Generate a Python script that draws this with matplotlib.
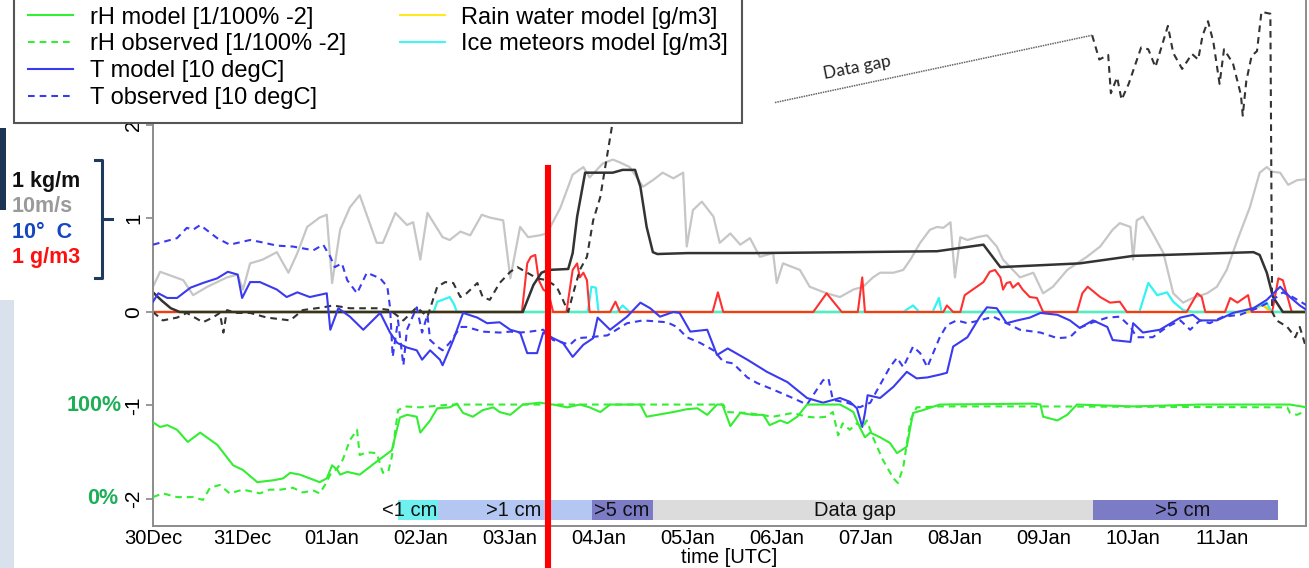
import numpy as np
import matplotlib
matplotlib.use('Agg')
from matplotlib import pyplot as plt
from matplotlib.lines import Line2D
from matplotlib.patches import Rectangle

plt.rcParams['font.family'] = ['Liberation Sans Narrow', 'Liberation Sans', 'DejaVu Sans']

# time axis in days since 30 Dec 00 UTC
day_labels = ['30Dec', '31Dec', '01Jan', '02Jan', '03Jan', '04Jan', '05Jan',
              '06Jan', '07Jan', '08Jan', '09Jan', '10Jan', '11Jan']

# wind speed [10 m/s]
wind_t = [0.00, 0.08, 0.34, 0.45, 0.61, 0.83, 0.95, 1.01, 1.09, 1.23,
          1.39, 1.52, 1.62, 1.73, 1.87, 1.95, 2.01, 2.10, 2.21, 2.32,
          2.51, 2.58, 2.72, 2.85, 2.92, 3.00, 3.08, 3.25, 3.33, 3.45,
          3.56, 3.69, 3.78, 3.93, 4.01, 4.12, 4.21, 4.34, 4.42, 4.57,
          4.71, 4.83, 4.90, 4.98, 5.05, 5.16, 5.24, 5.35, 5.50, 5.61,
          5.72, 5.84, 5.95, 5.99, 6.06, 6.16, 6.29, 6.36, 6.48, 6.59,
          6.70, 6.81, 6.96, 7.00, 7.07, 7.26, 7.37, 7.56, 7.71, 7.86,
          7.97, 8.08, 8.16, 8.31, 8.42, 8.50, 8.61, 8.72, 8.80, 8.87,
          8.95, 9.00, 9.06, 9.14, 9.25, 9.36, 9.47, 9.54, 9.62, 9.73,
          9.88, 9.99, 10.10, 10.26, 10.37, 10.48, 10.63, 10.77, 10.85, 10.97,
          11.00, 11.04, 11.11, 11.22, 11.34, 11.45, 11.56, 11.67, 11.83, 11.94,
          12.05, 12.17, 12.31, 12.42, 12.50, 12.56, 12.65, 12.74, 12.84, 12.95]
wind_v = [0.27, 0.43, 0.34, 0.18, 0.27, 0.37, 0.40, 0.24, 0.52, 0.56,
          0.64, 0.42, 0.63, 0.91, 1.01, 1.04, 0.31, 0.88, 1.12, 1.25,
          0.74, 0.74, 1.06, 0.93, 0.96, 0.56, 1.06, 0.80, 0.77, 0.86,
          0.82, 1.04, 1.01, 0.98, 0.36, 0.91, 0.80, 0.82, 0.84, 1.11,
          1.47, 1.55, 1.44, 1.52, 1.59, 1.63, 1.60, 1.55, 1.34, 1.41,
          1.49, 1.43, 1.49, 0.70, 1.09, 1.18, 1.02, 0.74, 0.84, 0.72,
          0.79, 0.59, 0.63, 0.31, 0.52, 0.45, 0.27, 0.20, 0.16, 0.24,
          0.27, 0.37, 0.42, 0.42, 0.45, 0.56, 0.74, 0.88, 0.91, 0.90,
          0.96, 0.37, 0.80, 0.77, 0.80, 0.82, 0.70, 0.56, 0.48, 0.37,
          0.42, 0.20, 0.27, 0.45, 0.52, 0.59, 0.70, 0.88, 0.95, 0.91,
          0.56, 0.98, 1.02, 0.84, 0.63, 0.20, 0.10, 0.15, 0.20, 0.27,
          0.45, 0.77, 1.12, 1.49, 1.55, 1.50, 1.49, 1.36, 1.41, 1.42]

# ice load model [kg/m]
load_t = [0.00, 0.10, 0.20, 0.30, 4.15, 4.27, 4.36, 4.44, 4.66, 4.71,
          4.76, 4.85, 5.16, 5.27, 5.41, 5.47, 5.54, 5.61, 5.66, 6.00,
          6.74, 7.86, 8.80, 9.32, 9.51, 10.40, 11.00, 12.35, 12.42, 12.50,
          12.57, 12.68, 12.95]
load_v = [0.21, 0.12, 0.04, 0.00, 0.00, 0.29, 0.42, 0.45, 0.46, 0.63,
          1.02, 1.49, 1.49, 1.52, 1.52, 1.34, 0.91, 0.64, 0.62, 0.63,
          0.63, 0.64, 0.65, 0.72, 0.48, 0.52, 0.60, 0.64, 0.61, 0.42,
          0.16, 0.00, 0.00]

# ice load observed [kg/m], before the data gap
obs1_t = [0.00, 0.11, 0.27, 0.38, 0.56, 0.67, 0.75, 0.79, 0.83, 0.94,
          1.09, 1.28, 1.54, 1.68, 1.91, 2.02, 2.21, 2.51, 2.66, 2.81,
          2.96, 3.08, 3.19, 3.28, 3.37, 3.45, 3.52, 3.64, 3.70, 3.78,
          3.89, 4.01, 4.09, 4.20, 4.31, 4.42, 4.53, 4.60, 4.66, 4.71,
          4.79, 4.87, 4.94, 5.02, 5.07, 5.15, 5.25]
obs1_v = [0.00, -0.09, -0.06, -0.01, -0.11, -0.06, -0.01, -0.22, 0.02, -0.01,
          -0.01, -0.06, -0.09, 0.02, 0.05, 0.07, 0.04, 0.04, 0.02, -0.09,
          0.05, -0.05, 0.27, 0.32, 0.31, 0.16, 0.20, 0.31, 0.16, 0.13,
          0.31, 0.43, 0.48, 0.42, 0.36, 0.34, 0.27, 0.13, 0.00, 0.18,
          0.45, 0.59, 0.98, 1.23, 1.52, 1.98, 2.45]
# data gap connection
gap_t = [6.98, 10.54]
gap_v = [2.24, 2.96]
# ice load observed after the data gap
obs2_t = [10.54, 10.62, 10.72, 10.75, 10.82, 10.87, 10.95, 11.09, 11.17, 11.25,
          11.39, 11.45, 11.55, 11.66, 11.73, 11.78, 11.84, 11.90, 11.97, 12.02,
          12.12, 12.21, 12.23, 12.27, 12.33, 12.39, 12.44, 12.54, 12.56, 12.61,
          12.73, 12.82, 12.87, 12.95]
obs2_v = [2.96, 2.70, 2.75, 2.34, 2.51, 2.27, 2.44, 2.83, 2.81, 2.62,
          3.06, 2.77, 2.60, 2.76, 2.70, 2.96, 3.11, 2.89, 2.44, 2.81,
          2.66, 2.32, 2.10, 2.47, 2.74, 2.79, 3.21, 3.19, 0.00, -0.09,
          -0.16, -0.27, -0.16, -0.41]

# temperature observed [10 degC]
tobs_t = [0.00, 0.27, 0.38, 0.45, 0.53, 0.72, 0.86, 1.09, 1.20, 1.39,
          1.57, 1.80, 1.91, 1.99, 2.04, 2.12, 2.18, 2.29, 2.40, 2.55,
          2.63, 2.66, 2.69, 2.75, 2.81, 2.85, 2.96, 3.02, 3.08, 3.11,
          3.19, 3.25, 3.33, 3.45, 3.52, 3.70, 3.89, 4.01, 4.12, 4.23,
          4.38, 4.49, 4.68, 4.76, 4.90, 5.10, 5.32, 5.50, 5.77, 5.88,
          5.99, 6.14, 6.29, 6.40, 6.51, 6.67, 6.78, 6.96, 7.18, 7.34,
          7.45, 7.52, 7.58, 7.63, 7.79, 7.93, 8.05, 8.13, 8.27, 8.35,
          8.42, 8.53, 8.61, 8.69, 8.83, 8.91, 9.02, 9.14, 9.28, 9.43,
          9.58, 9.73, 9.96, 10.15, 10.29, 10.40, 10.55, 10.71, 10.85, 10.97,
          11.04, 11.22, 11.38, 11.53, 11.64, 11.75, 11.86, 12.01, 12.20, 12.39,
          12.54, 12.68, 12.79, 12.95]
tobs_v = [0.72, 0.79, 0.90, 0.88, 0.93, 0.79, 0.72, 0.77, 0.75, 0.71,
          0.70, 0.66, 0.72, 0.59, 0.48, 0.52, 0.34, 0.20, 0.42, 0.36,
          0.27, 0.05, -0.48, -0.09, -0.57, -0.19, 0.05, -0.22, -0.03, -0.30,
          -0.37, -0.41, -0.33, -0.16, -0.16, -0.21, -0.22, -0.21, -0.22, -0.21,
          -0.19, -0.30, -0.35, -0.28, -0.27, -0.25, -0.12, -0.09, -0.11, -0.16,
          -0.27, -0.33, -0.41, -0.53, -0.55, -0.70, -0.76, -0.83, -0.92, -0.99,
          -0.83, -0.73, -0.71, -0.94, -0.97, -1.02, -0.97, -0.83, -0.59, -0.49,
          -0.59, -0.37, -0.44, -0.59, -0.27, -0.14, -0.09, -0.12, -0.09, -0.05,
          -0.12, -0.19, -0.22, -0.28, -0.27, -0.17, -0.11, -0.06, -0.05, -0.16,
          -0.27, -0.27, -0.16, -0.09, -0.19, -0.09, -0.12, -0.05, -0.03, 0.04,
          0.11, 0.21, 0.16, 0.07]

# temperature model [10 degC]
tmod_t = [0.00, 0.06, 0.16, 0.27, 0.42, 0.56, 0.72, 0.84, 0.95, 1.00,
          1.09, 1.20, 1.39, 1.50, 1.62, 1.76, 1.95, 1.99, 2.08, 2.21,
          2.36, 2.55, 2.66, 2.74, 2.85, 2.96, 3.02, 3.11, 3.22, 3.25,
          3.37, 3.48, 3.64, 3.75, 3.89, 4.01, 4.12, 4.20, 4.31, 4.38,
          4.49, 4.60, 4.71, 4.83, 4.94, 4.99, 5.13, 5.32, 5.47, 5.58,
          5.69, 5.84, 5.91, 6.03, 6.22, 6.33, 6.45, 6.67, 6.89, 7.12,
          7.34, 7.52, 7.71, 7.82, 7.90, 7.96, 7.99, 8.02, 8.16, 8.31,
          8.46, 8.57, 8.69, 8.83, 8.91, 8.98, 9.14, 9.28, 9.36, 9.47,
          9.58, 9.70, 9.84, 9.96, 10.15, 10.29, 10.40, 10.55, 10.71, 10.77,
          10.97, 11.00, 11.11, 11.30, 11.53, 11.67, 11.75, 11.94, 12.12, 12.35,
          12.50, 12.65, 12.76, 12.87, 12.95]
tmod_v = [0.11, 0.20, 0.15, 0.15, 0.26, 0.31, 0.36, 0.43, 0.40, 0.15,
          0.32, 0.32, 0.24, 0.16, 0.21, 0.16, 0.20, -0.19, 0.04, -0.05,
          -0.19, -0.01, -0.22, -0.33, -0.38, -0.41, -0.51, -0.41, -0.51, -0.57,
          -0.30, -0.01, -0.06, -0.12, -0.11, -0.19, -0.22, -0.44, -0.44, -0.22,
          -0.28, -0.33, -0.48, -0.35, -0.28, -0.06, -0.19, -0.05, 0.10, 0.04,
          -0.05, 0.00, -0.01, -0.21, -0.19, -0.46, -0.39, -0.51, -0.64, -0.75,
          -0.92, -0.97, -0.92, -0.96, -1.03, -1.23, -1.08, -0.89, -0.92, -0.80,
          -0.64, -0.71, -0.70, -0.67, -0.65, -0.37, -0.27, -0.05, 0.05, 0.04,
          -0.12, -0.09, -0.06, -0.01, -0.03, -0.09, -0.17, -0.09, -0.16, -0.30,
          -0.32, -0.12, -0.22, -0.19, -0.06, -0.03, -0.09, -0.09, -0.01, 0.04,
          0.13, 0.27, 0.16, 0.07, 0.02]

# relative humidity model [1/100% - 2]
rhmod_t = [0.00, 0.08, 0.16, 0.27, 0.39, 0.53, 0.72, 0.90, 1.01, 1.17,
           1.35, 1.46, 1.54, 1.65, 1.76, 1.87, 1.95, 2.01, 2.07, 2.10,
           2.18, 2.32, 2.51, 2.68, 2.77, 2.85, 2.96, 3.00, 3.11, 3.19,
           3.33, 3.41, 3.48, 3.59, 3.70, 3.82, 3.89, 4.01, 4.15, 4.34,
           4.49, 4.65, 4.79, 4.90, 5.02, 5.13, 5.47, 5.54, 5.66, 5.84,
           5.99, 6.11, 6.22, 6.33, 6.39, 6.48, 6.59, 6.73, 6.85, 6.92,
           7.04, 7.12, 7.23, 7.34, 7.63, 7.71, 7.79, 7.86, 7.93, 7.99,
           8.05, 8.16, 8.27, 8.35, 8.46, 8.50, 8.53, 8.64, 8.83, 9.88,
           9.96, 9.99, 10.15, 10.26, 10.37, 11.00, 11.75, 12.76, 12.95]
rhmod_v = [-1.18, -1.23, -1.21, -1.26, -1.39, -1.29, -1.42, -1.64, -1.69, -1.82,
           -1.80, -1.78, -1.72, -1.74, -1.78, -1.82, -1.78, -1.64, -1.69, -1.74,
           -1.71, -1.74, -1.60, -1.48, -1.13, -1.10, -1.12, -1.29, -1.16, -1.03,
           -1.02, -0.98, -1.08, -1.12, -1.05, -1.02, -1.07, -1.10, -0.99, -0.97,
           -0.99, -1.02, -0.99, -1.02, -1.07, -0.99, -0.99, -1.12, -1.10, -1.07,
           -1.04, -1.03, -1.10, -0.99, -0.99, -1.22, -1.08, -1.10, -1.10, -1.21,
           -1.16, -1.19, -1.12, -0.99, -0.99, -0.99, -1.03, -1.07, -1.23, -1.34,
           -1.29, -1.34, -1.40, -1.51, -1.44, -1.23, -1.08, -1.05, -0.99, -0.98,
           -0.99, -1.12, -1.16, -1.10, -0.99, -1.01, -0.99, -0.99, -1.02]

# relative humidity observed [1/100% - 2]
rhobs_t = [0.00, 0.11, 0.27, 0.45, 0.56, 0.64, 0.75, 0.86, 1.01, 1.20,
           1.31, 1.43, 1.57, 1.68, 1.80, 1.87, 1.93, 1.99, 2.07, 2.13,
           2.21, 2.29, 2.32, 2.40, 2.51, 2.58, 2.64, 2.68, 2.75, 2.83,
           3.00, 3.33, 4.42, 4.71, 6.40, 6.44, 6.67, 6.96, 7.18, 7.34,
           7.45, 7.56, 7.63, 7.69, 7.74, 7.82, 7.90, 7.96, 8.01, 8.08,
           8.19, 8.31, 8.36, 8.42, 8.50, 8.57, 8.83, 9.96, 12.73, 12.76,
           12.84, 12.95]
rhobs_v = [-1.98, -1.94, -1.98, -1.98, -2.01, -1.88, -1.85, -1.94, -1.90, -1.94,
           -1.90, -1.90, -1.88, -1.93, -1.91, -1.94, -1.85, -1.74, -1.67, -1.58,
           -1.37, -1.26, -1.53, -1.50, -1.51, -1.72, -1.71, -1.55, -1.05, -1.01,
           -1.02, -0.99, -0.99, -0.99, -0.99, -1.07, -1.08, -1.12, -1.08, -1.12,
           -1.13, -1.12, -1.07, -1.32, -1.19, -1.26, -1.19, -1.24, -1.16, -1.34,
           -1.58, -1.78, -1.83, -1.66, -1.16, -1.02, -1.01, -1.01, -1.02, -1.08,
           -1.10, -1.05]

# cloud liquid water model [g/m3]
clw_t = [0.00, 4.14, 4.20, 4.24, 4.29, 4.33, 4.38, 4.44, 4.49, 4.64,
         4.71, 4.76, 4.79, 4.83, 4.87, 4.90, 5.13, 5.19, 5.24, 6.28,
         6.34, 6.40, 7.41, 7.56, 7.73, 7.91, 7.96, 7.99, 8.87, 8.91,
         8.98, 9.06, 9.11, 9.20, 9.32, 9.39, 9.45, 9.51, 9.54, 9.58,
         9.62, 9.65, 9.71, 9.76, 9.84, 9.92, 9.99, 10.37, 10.43, 10.49,
         10.63, 10.74, 10.85, 10.93, 11.60, 11.72, 11.77, 11.81, 12.03, 12.09,
         12.17, 12.29, 12.33, 12.56, 12.63, 12.68, 12.78, 12.95]
clw_v = [0.00, 0.00, 0.52, 0.59, 0.61, 0.34, 0.24, 0.20, 0.00, 0.00,
         0.45, 0.52, 0.37, 0.42, 0.34, 0.00, 0.00, 0.11, 0.00, 0.00,
         0.21, 0.00, 0.00, 0.20, 0.00, 0.00, 0.37, 0.00, 0.00, 0.07,
         0.00, 0.00, 0.18, 0.24, 0.32, 0.43, 0.45, 0.37, 0.24, 0.31,
         0.32, 0.26, 0.31, 0.24, 0.16, 0.15, 0.00, 0.00, 0.20, 0.27,
         0.16, 0.10, 0.11, 0.00, 0.00, 0.20, 0.16, 0.00, 0.00, 0.15,
         0.10, 0.18, 0.00, 0.00, 0.36, 0.34, 0.00, 0.00]

# rain water model [g/m3]
rain_t = [0.00, 12.30, 12.45, 12.55, 12.95]
rain_v = [0.00, 0.00, 0.08, 0.00, 0.00]

# ice meteors model [g/m3]
ice_t = [0.00, 3.15, 3.19, 3.25, 3.33, 3.38, 3.41, 4.88, 4.92, 4.97,
         5.00, 5.21, 5.27, 5.35, 8.42, 8.53, 8.60, 8.75, 8.82, 8.85,
         11.07, 11.17, 11.27, 11.38, 11.45, 11.56, 11.67, 12.20, 12.40, 12.50,
         12.55, 12.95]
ice_v = [0.00, 0.00, 0.11, 0.13, 0.16, 0.08, 0.00, 0.00, 0.27, 0.26,
         0.00, 0.00, 0.07, 0.00, 0.00, 0.07, 0.00, 0.00, 0.15, 0.00,
         0.00, 0.31, 0.18, 0.21, 0.11, 0.02, 0.00, 0.00, 0.06, 0.10,
         0.00, 0.00]

# snow depth classes along the bottom
snow_start = [2.75, 3.20, 4.93, 5.61, 10.55]
snow_end = [3.20, 4.93, 5.61, 10.55, 12.63]
snow_text = ['<1 cm', '>1 cm', '>5 cm', 'Data gap', '>5 cm']
snow_text_x = [2.88, 4.05, 5.26, 7.88, 11.56]
snow_colors = ['#6ff0f0', '#b3c7f2', '#7c7cc6', '#dcdcdc', '#7c7cc6']

event_day = 4.43  # red marker line

W, H = 1309, 568
fig = plt.figure(figsize=(W / 100, H / 100), dpi=100)
ax = fig.add_axes([153 / W, 42 / H, (1306 - 153) / W, 526 / H])

c_gray = '#c6c6c6'
c_black = '#333333'
c_blue = '#3a3af0'
c_green = '#33ee33'
c_red = '#ff3030'
c_cyan = '#33f3f3'
c_yellow = '#ffd200'
dash = (0, (3.2, 2.4))

ax.plot(wind_t, wind_v, color=c_gray, lw=1.6, zorder=2)
ax.plot(rain_t, rain_v, color=c_yellow, lw=1.9, zorder=2.1)
ax.plot(ice_t, ice_v, color=c_cyan, lw=1.6, zorder=2.2)
ax.plot(clw_t, clw_v, color=c_red, lw=1.5, zorder=2.3)
ax.plot(load_t, load_v, color=c_black, lw=1.8, zorder=2.4)
ax.plot(obs1_t, obs1_v, color=c_black, lw=1.5, ls=dash, zorder=2.5)
ax.plot(obs2_t, obs2_v, color=c_black, lw=1.5, ls=dash, zorder=2.5)
ax.plot(gap_t, gap_v, color='#666666', lw=1.1, ls=(0, (1, 0.6)), zorder=2.5)
ax.plot(tobs_t, tobs_v, color=c_blue, lw=1.5, ls=dash, zorder=2.6)
ax.plot(tmod_t, tmod_v, color=c_blue, lw=1.5, zorder=2.6)
ax.plot(rhobs_t, rhobs_v, color=c_green, lw=1.5, ls=dash, zorder=2.7)
ax.plot(rhmod_t, rhmod_v, color=c_green, lw=1.5, zorder=2.7)

starts = np.array(snow_start)
widths = np.array(snow_end) - starts
ax.barh(-2.12, widths, left=starts, height=0.21, color=snow_colors, zorder=1.5)
for x, s in zip(snow_text_x, snow_text):
    ax.text(x, -2.12, s, ha='center', va='center', fontsize=14.5, color='#111111', zorder=3)

ax.text(7.90, 2.61, 'Data gap', rotation=11, rotation_mode='anchor', ha='center', va='center',
        fontsize=12.5, family=['Lato', 'DejaVu Sans'], color='#222222')

ax.plot([event_day, event_day], [1.54, -2.74], color='#ff0000', lw=4.4, clip_on=False, zorder=6)

ax.set_xlim(0, 12.94)
ax.set_ylim(-2.289, 3.337)
ax.set_xticks(range(len(day_labels)))
ax.set_xticklabels(day_labels)
ax.set_yticks([-2, -1, 0, 1, 2])
ax.set_yticklabels(['-2', '-1', '0', '1', '2'], rotation=90, va='center')
ax.tick_params(axis='x', length=0, pad=2, labelsize=14.5)
ax.tick_params(axis='y', length=5, width=1.2, color='#888888', pad=2, labelsize=15)
ax.spines['top'].set_visible(False)
for s in ['left', 'right', 'bottom']:
    ax.spines[s].set_color('#8c8c8c')
    ax.spines[s].set_linewidth(1.4)
ax.spines['left'].set_bounds(-2.289, 2.0)
ax.set_xlabel('time [UTC]', fontsize=14.5, labelpad=0)

# percent labels for the rH curves
ax.text(-0.027, -1, '100%', transform=ax.get_yaxis_transform(), ha='right', va='center',
        fontsize=15.5, fontweight='bold', color='#1fae58', family=['Liberation Sans', 'DejaVu Sans'])
ax.text(-0.030, -2, '0%', transform=ax.get_yaxis_transform(), ha='right', va='center',
        fontsize=15.5, fontweight='bold', color='#1fae58', family=['Liberation Sans', 'DejaVu Sans'])

# unit key on the left
unit_text = ['1 kg/m', '10m/s', '10°  C', '1 g/m3']
unit_colors = ['#111111', '#9a9a9a', '#1446c0', '#ff1010']
unit_y = [182, 207, 232, 258]
for s, c, y in zip(unit_text, unit_colors, unit_y):
    fig.text(12 / W, 1 - y / H, s, ha='left', va='center', fontsize=15.5, fontweight='bold',
             color=c, family=['Liberation Sans', 'DejaVu Sans'])
navy = '#1f3a5f'
fig.add_artist(Line2D(np.array([95, 102, 102, 95]) / W, 1 - np.array([160, 160, 278, 278]) / H,
                      color=navy, lw=2.2))
fig.add_artist(Line2D(np.array([102, 112]) / W, 1 - np.array([219, 219]) / H, color=navy, lw=2.2))
fig.add_artist(Rectangle((0, 1 - 210 / H), 6 / W, 82 / H, color='#1c3553', lw=0))
fig.add_artist(Rectangle((0, 0), 14 / W, 268 / H, color='#d9e2ec', lw=0))

# legend
handles = [Line2D([], [], color=c_green, lw=1.5),
           Line2D([], [], color=c_green, lw=1.5, ls=dash),
           Line2D([], [], color=c_blue, lw=1.5),
           Line2D([], [], color=c_blue, lw=1.5, ls=dash),
           Line2D([], [], color='#ffe820', lw=1.5),
           Line2D([], [], color='#40f6f6', lw=1.5),
           Line2D([], [], color='none'),
           Line2D([], [], color='none')]
labels = ['rH model [1/100% -2]', 'rH observed [1/100% -2]', 'T model [10 degC]',
          'T observed [10 degC]', 'Rain water model [g/m3]', 'Ice meteors model [g/m3]', ' ', ' ']
leg = fig.legend(handles, labels, ncol=2, loc='lower left', bbox_to_anchor=(14 / W, 1 - 123 / H),
                 borderaxespad=0, fancybox=False, framealpha=1, edgecolor='#555555',
                 prop={'family': ['Liberation Sans', 'DejaVu Sans'], 'size': 17},
                 handlelength=1.9, handletextpad=0.7, columnspacing=2.3,
                 labelspacing=0.2, borderpad=0.6)
leg.get_frame().set_linewidth(1.5)

fig.savefig('out.png', dpi=100)
